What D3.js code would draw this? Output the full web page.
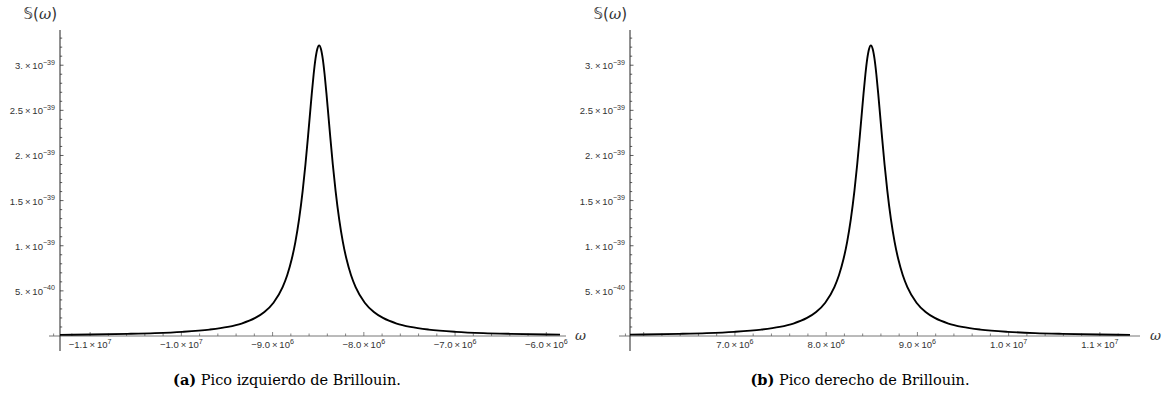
<!DOCTYPE html>
<html>
<head>
<meta charset="utf-8">
<script src="https://cdn.jsdelivr.net/npm/d3@7"></script>
<style>
  body { margin: 0; background: #fff; }
  svg { display: block; }
</style>
</head>
<body>
<script>
// omega in units of 1e6, S in units of 1e-39
var omegaLeft = [-11.33, -10.99, -10.59, -10.29, -9.99, -9.69, -9.49, -9.34, -9.19, -9.09, -8.99, -8.89,
  -8.84, -8.79, -8.75, -8.71, -8.67, -8.64, -8.61, -8.59, -8.57, -8.55, -8.53, -8.51, -8.49,
  -8.47, -8.45, -8.43, -8.41, -8.39, -8.37, -8.34, -8.31, -8.27, -8.23, -8.19, -8.14, -8.09,
  -7.99, -7.89, -7.79, -7.64, -7.49, -7.29, -6.99, -6.69, -6.39, -5.99, -5.85];
var sLeft = [0.013, 0.017, 0.024, 0.032, 0.046, 0.071, 0.101, 0.138, 0.200, 0.266, 0.369, 0.542,
  0.673, 0.852, 1.043, 1.291, 1.61, 1.90, 2.23, 2.46, 2.69, 2.90, 3.07, 3.18, 3.22,
  3.18, 3.07, 2.90, 2.69, 2.46, 2.23, 1.90, 1.61, 1.291, 1.043, 0.852, 0.673, 0.542,
  0.369, 0.266, 0.200, 0.138, 0.101, 0.071, 0.046, 0.032, 0.024, 0.017, 0.015];

var omegaRight = [5.85, 5.99, 6.39, 6.69, 6.99, 7.29, 7.49, 7.64, 7.79, 7.89, 7.99, 8.09,
  8.14, 8.19, 8.23, 8.27, 8.31, 8.34, 8.37, 8.39, 8.41, 8.43, 8.45, 8.47, 8.49,
  8.51, 8.53, 8.55, 8.57, 8.59, 8.61, 8.64, 8.67, 8.71, 8.75, 8.79, 8.84, 8.89,
  8.99, 9.09, 9.19, 9.34, 9.49, 9.69, 9.99, 10.29, 10.59, 10.99, 11.33];
var sRight = [0.015, 0.017, 0.024, 0.032, 0.046, 0.071, 0.101, 0.138, 0.200, 0.266, 0.369, 0.542,
  0.673, 0.852, 1.043, 1.291, 1.61, 1.90, 2.23, 2.46, 2.69, 2.90, 3.07, 3.18, 3.22,
  3.18, 3.07, 2.90, 2.69, 2.46, 2.23, 1.90, 1.61, 1.291, 1.043, 0.852, 0.673, 0.542,
  0.369, 0.266, 0.200, 0.138, 0.101, 0.071, 0.046, 0.032, 0.024, 0.017, 0.013];

var yTicks = [0.5, 1, 1.5, 2, 2.5, 3];
var yTickMant = ["5.", "1.", "1.5", "2.", "2.5", "3."];
var yTickExp = ["\u221240", "\u221239", "\u221239", "\u221239", "\u221239", "\u221239"];

var xTicksLeft = [-11, -10, -9, -8, -7, -6];
var xMantLeft = ["\u22121.1", "\u22121.0", "\u22129.0", "\u22128.0", "\u22127.0", "\u22126.0"];
var xExpLeft = ["7", "7", "6", "6", "6", "6"];

var xTicksRight = [7, 8, 9, 10, 11];
var xMantRight = ["7.0", "8.0", "9.0", "1.0", "1.1"];
var xExpRight = ["6", "6", "6", "7", "7"];

var captions = [["a", "Pico izquierdo de Brillouin."], ["b", "Pico derecho de Brillouin."]];

var width = 1165, height = 396;
var tickFont = 9.5;

var svg = d3.select("body").append("svg")
    .attr("width", width)
    .attr("height", height);

var y = d3.scaleLinear().domain([0, 3.39]).range([336, 30]);

function sci(sel, mant, exp) {
  sel.append("tspan").text(mant);
  sel.append("tspan").text("\u2009\u00d7\u200910");
  sel.append("tspan")
      .attr("dy", -4.5)
      .style("font-size", (tickFont * 0.75) + "px")
      .text(exp);
}

function panel(opts) {
  var g = svg.append("g");
  var x = d3.scaleLinear().domain(opts.domain).range(opts.range);
  var x0 = opts.range[0], x1 = opts.range[1];

  // x axis
  g.append("line")
      .attr("x1", x0 - 11).attr("x2", x1 + opts.axisExt)
      .attr("y1", y(0)).attr("y2", y(0))
      .style("stroke", "#777").style("stroke-width", 1);

  var minorX = d3.range(Math.ceil(opts.domain[0] * 5 - 0.5), Math.floor(opts.domain[1] * 5) + 1)
      .map(function(d) { return d / 5; });
  g.selectAll(".xminor").data(minorX).enter().append("line")
      .attr("x1", function(d) { return x(d); }).attr("x2", function(d) { return x(d); })
      .attr("y1", y(0)).attr("y2", function(d) { return Math.abs(d - Math.round(d)) < 1e-6 ? y(0) - 4 : y(0) - 2.5; })
      .style("stroke", "#666").style("stroke-width", 0.8);

  g.selectAll(".xlab").data(opts.xTicks).enter().append("text")
      .attr("x", function(d) { return x(d); })
      .attr("y", 348)
      .attr("text-anchor", "middle")
      .style("font-family", "'Liberation Sans', Arial, sans-serif")
      .style("font-size", tickFont + "px")
      .style("fill", "#333")
      .each(function(d, i) { sci(d3.select(this), opts.xMant[i], opts.xExp[i]); });

  // y axis
  var ax = x0;
  g.append("line")
      .attr("x1", ax).attr("x2", ax)
      .attr("y1", 30).attr("y2", 351)
      .style("stroke", "#222").style("stroke-width", 1);

  var minorY = d3.range(1, 34).map(function(d) { return d / 10; });
  g.selectAll(".yminor").data(minorY).enter().append("line")
      .attr("x1", ax).attr("x2", function(d) { return (Math.round(d * 10) % 5 === 0) ? ax + 3.5 : ax + 2.2; })
      .attr("y1", function(d) { return y(d); }).attr("y2", function(d) { return y(d); })
      .style("stroke", "#333").style("stroke-width", 0.8);

  g.selectAll(".ylab").data(yTicks).enter().append("text")
      .attr("x", ax - 5)
      .attr("y", function(d) { return y(d) + 4; })
      .attr("text-anchor", "end")
      .style("font-family", "'Liberation Sans', Arial, sans-serif")
      .style("font-size", tickFont + "px")
      .style("fill", "#333")
      .each(function(d, i) { sci(d3.select(this), yTickMant[i], yTickExp[i]); });

  // axis labels
  var lab = g.append("text")
      .attr("x", ax - 3).attr("y", 19)
      .attr("text-anchor", "end")
      .style("font-family", "'DejaVu Sans', sans-serif")
      .style("font-size", "15px")
      .style("fill", "#333");
  lab.append("tspan").text("\ud835\udd4a(");
  lab.append("tspan").style("font-family", "'DejaVu Serif', serif").style("font-style", "italic").text("\u03c9");
  lab.append("tspan").text(")");

  g.append("text")
      .attr("x", opts.omegaX).attr("y", y(0) + 4)
      .style("font-family", "'DejaVu Serif', serif")
      .style("font-style", "italic")
      .style("font-size", "13.5px")
      .style("fill", "#333")
      .text("\u03c9");

  // curve
  var pts = opts.omega.map(function(d, i) { return [d, opts.s[i]]; });
  g.append("path")
      .datum(pts)
      .attr("d", d3.line()
          .x(function(d) { return x(d[0]); })
          .y(function(d) { return y(d[1]); })
          .curve(d3.curveMonotoneX))
      .style("fill", "none")
      .style("stroke", "#000")
      .style("stroke-width", 1.9);

  // caption
  var cap = svg.append("text")
      .attr("x", opts.capX).attr("y", 385)
      .attr("text-anchor", "middle")
      .style("font-family", "'DejaVu Serif', serif")
      .style("font-size", "14.5px")
      .style("fill", "#000");
  cap.append("tspan").style("font-weight", "bold").text("(" + opts.caption[0] + ")");
  cap.append("tspan").text(" " + opts.caption[1]);
}

panel({domain: [-11.33, -5.85], range: [60, 560], omega: omegaLeft, s: sLeft, axisExt: 6, omegaX: 575,
       xTicks: xTicksLeft, xMant: xMantLeft, xExp: xExpLeft, caption: captions[0], capX: 287});
panel({domain: [5.85, 11.33], range: [630, 1130], omega: omegaRight, s: sRight, axisExt: 10, omegaX: 1150,
       xTicks: xTicksRight, xMant: xMantRight, xExp: xExpRight, caption: captions[1], capX: 860});
</script>
</body>
</html>
